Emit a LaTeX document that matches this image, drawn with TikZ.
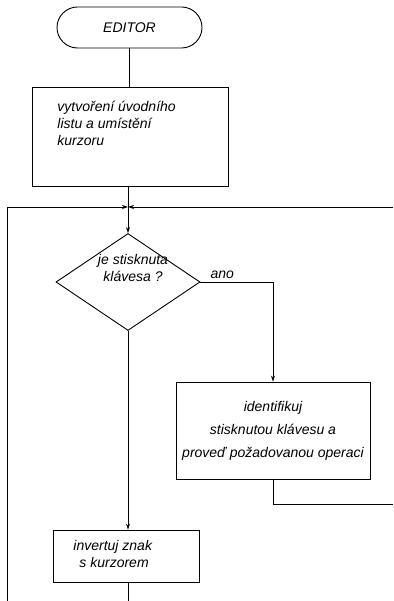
\documentclass[tikz,border=0pt]{standalone}
\usepackage{fontspec}
\setmainfont{Liberation Sans}
\usetikzlibrary{shapes.geometric,shapes.misc,arrows.meta}

\begin{document}
\begin{tikzpicture}[x=1pt,y=-1pt,line width=0.9pt,
  font=\itshape\fontsize{14}{17}\selectfont,
  >={Stealth[length=6pt,width=4pt]},
  box/.style={draw, inner sep=0pt}]
\useasboundingbox (0,0) rectangle (393,601);
\node[box, rounded rectangle, minimum width=145pt, minimum height=41pt] (editor) at (129.5,27.5) {EDITOR};
\node[box, minimum width=196pt, minimum height=99pt] (init) at (130,136.5) {};
\node[anchor=north west, align=left, inner sep=0pt] (inittext) at (57,101) {vytvoření úvodního\\listu a umístění\\kurzoru};
\node[box, diamond, minimum width=144pt, minimum height=97pt] (key) at (128,282) {};
\node[align=center, inner sep=0pt] (keytext) at (133,268) {je stisknuta\\klávesa ?};
\node[box, minimum width=194pt, minimum height=97pt, align=center] (ident) at (273,430.5) {identifikuj\\[6pt]stisknutou klávesu a\\[6pt]proveď požadovanou operaci};
\node[box, minimum width=146pt, minimum height=52pt] (inv) at (126,556) {};
\node[anchor=north west, align=left, inner sep=0pt] (invtext) at (73,540) {invertuj znak\\\hspace*{6pt}s kurzorem};
\coordinate (join) at (128,207);
\coordinate (leftTop) at (7,207);
\coordinate (leftEnd) at (7,601);
\coordinate (rightTop) at (393,207);
\coordinate (rightEnd) at (393,504);
\coordinate (mainEnd) at (128,601);
% main line
\draw (editor.south) -- (editor.south |- init.north);
\draw (join |- init.south) -- (join);
\draw[->] (join) -- (key.north);
\draw[->] (key.east) -| node[above, pos=0.15, inner sep=3pt] (ano) {ano} (ident.north);
\draw[->] (key.south) -- (key.south |- inv.north);
\draw (inv.south -| mainEnd) -- (mainEnd);
% loops
\draw (ident.south) |- (rightEnd);
\draw[->] (leftEnd) -- (leftTop) -- (join);
\draw[->] (rightTop) -- (join);
\end{tikzpicture}
\end{document}
